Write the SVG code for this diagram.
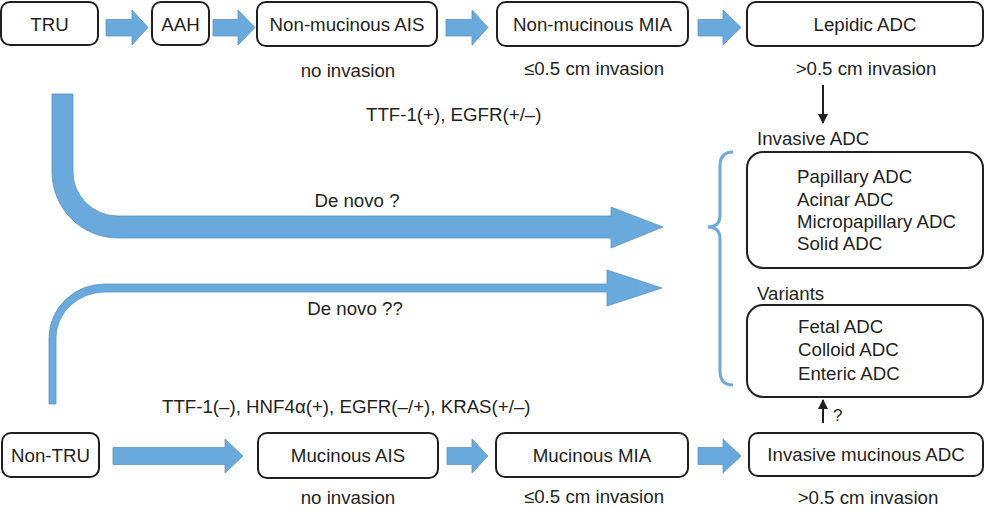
<svg xmlns="http://www.w3.org/2000/svg" width="985" height="509" viewBox="0 0 985 509">
<style>
text{font-family:"Liberation Sans",Arial,sans-serif;font-size:18.7px;fill:#231f20}
.c{text-anchor:middle}
.box{fill:#fff;stroke:#231f20;stroke-width:2}
.blue{fill:#69a9dc;stroke:#5a95c8;stroke-width:0.8}
.blk{stroke:#231f20;stroke-width:2;fill:none}
</style>
<defs>
<marker id="ah" viewBox="0 0 10 10" refX="9" refY="5" markerWidth="10" markerHeight="10" markerUnits="userSpaceOnUse" orient="auto">
<path d="M0,0 L10,5 L0,10 Z" fill="#231f20"/>
</marker>
</defs>
<g id="connectors">
<path class="blue" d="M106,19.5 H132 V10 L148,27.5 L132,45 V36 H106 Z"/>
<path class="blue" d="M213,19.5 H238 V10 L255,27.5 L238,45 V36 H213 Z"/>
<path class="blue" d="M446,19.5 H472 V10 L488,27.5 L472,45 V36 H446 Z"/>
<path class="blue" d="M698,19.5 H723 V10 L741,27.5 L723,45 V36 H698 Z"/>
<path class="blue" d="M113,447.5 H225 V439 L243,456 L225,473 V464.5 H113 Z"/>
<path class="blue" d="M447,447.5 H472 V439 L488,456 L472,473 V464.5 H447 Z"/>
<path class="blue" d="M698,447.5 H723 V439 L741,456 L723,473 V464.5 H698 Z"/>
<path class="blue" d="M52,94 H73 V172 A45,44 0 0 0 118,216 H611 V207 L663,227 L611,248 V238 H118 A66,66 0 0 1 52,172 Z"/>
<path class="blue" d="M49,404 V338 A56,54 0 0 1 105,284 H607 V270 L662,288 L607,306 V292 H105 A49,46 0 0 0 56,338 V404 Z"/>
<path d="M733,152 Q720,152 720,166 V215 Q720,227 708,227 Q720,227 720,239 V371 Q720,385 733,385" fill="none" stroke="#6aaadd" stroke-width="3"/>
<line class="blk" x1="823" y1="85" x2="823" y2="123" marker-end="url(#ah)"/>
<line class="blk" x1="823" y1="423" x2="823" y2="400" marker-end="url(#ah)"/>
</g>
<g id="tru"><rect class="box" x="1" y="2" width="97" height="43" rx="9"/><text class="c" x="49.5" y="30.5">TRU</text></g>
<g id="aah"><rect class="box" x="152" y="2" width="57" height="43" rx="9"/><text class="c" x="180.5" y="30.5">AAH</text></g>
<g id="nm-ais"><rect class="box" x="257" y="2" width="180" height="44" rx="9"/><text class="c" x="347" y="30.5">Non-mucinous AIS</text></g>
<g id="nm-mia"><rect class="box" x="497" y="2" width="191" height="44" rx="9"/><text class="c" x="592.5" y="30.5">Non-mucinous MIA</text></g>
<g id="lepidic"><rect class="box" x="747" y="2" width="236" height="44" rx="9"/><text class="c" x="865" y="30.5">Lepidic ADC</text></g>
<g id="invasive-adc">
<text x="757" y="145">Invasive ADC</text>
<rect class="box" x="747" y="152" width="236" height="116" rx="16"/>
<text x="797" y="183">Papillary ADC</text>
<text x="797" y="205.5">Acinar ADC</text>
<text x="797" y="228">Micropapillary ADC</text>
<text x="797" y="250">Solid ADC</text>
</g>
<g id="variants">
<text x="757" y="300">Variants</text>
<rect class="box" x="747" y="305" width="236" height="92" rx="16"/>
<text x="798" y="333">Fetal ADC</text>
<text x="798" y="356">Colloid ADC</text>
<text x="798" y="379.5">Enteric ADC</text>
</g>
<g id="non-tru"><rect class="box" x="2" y="433" width="97" height="44" rx="9"/><text class="c" x="50.5" y="462">Non-TRU</text></g>
<g id="m-ais"><rect class="box" x="258" y="433" width="180" height="45" rx="9"/><text class="c" x="348" y="462">Mucinous AIS</text></g>
<g id="m-mia"><rect class="box" x="496" y="433" width="192" height="44" rx="9"/><text class="c" x="592" y="462">Mucinous MIA</text></g>
<g id="inv-muc"><rect class="box" x="749" y="433" width="234" height="43" rx="9"/><text class="c" x="866" y="461">Invasive mucinous ADC</text></g>
<g id="labels">
<text class="c" x="348" y="76.5">no invasion</text>
<text class="c" x="594" y="75">≤0.5 cm invasion</text>
<text class="c" x="866" y="75">&gt;0.5 cm invasion</text>
<text x="366" y="121">TTF-1(+), EGFR(+/–)</text>
<text class="c" x="357" y="207">De novo ?</text>
<text class="c" x="355" y="315">De novo ??</text>
<text x="162" y="413">TTF-1(–), HNF4α(+), EGFR(–/+), KRAS(+/–)</text>
<text x="833" y="421" style="font-size:17px">?</text>
<text class="c" x="348" y="504">no invasion</text>
<text class="c" x="594" y="503">≤0.5 cm invasion</text>
<text class="c" x="868" y="504">&gt;0.5 cm invasion</text>
</g>
</svg>
